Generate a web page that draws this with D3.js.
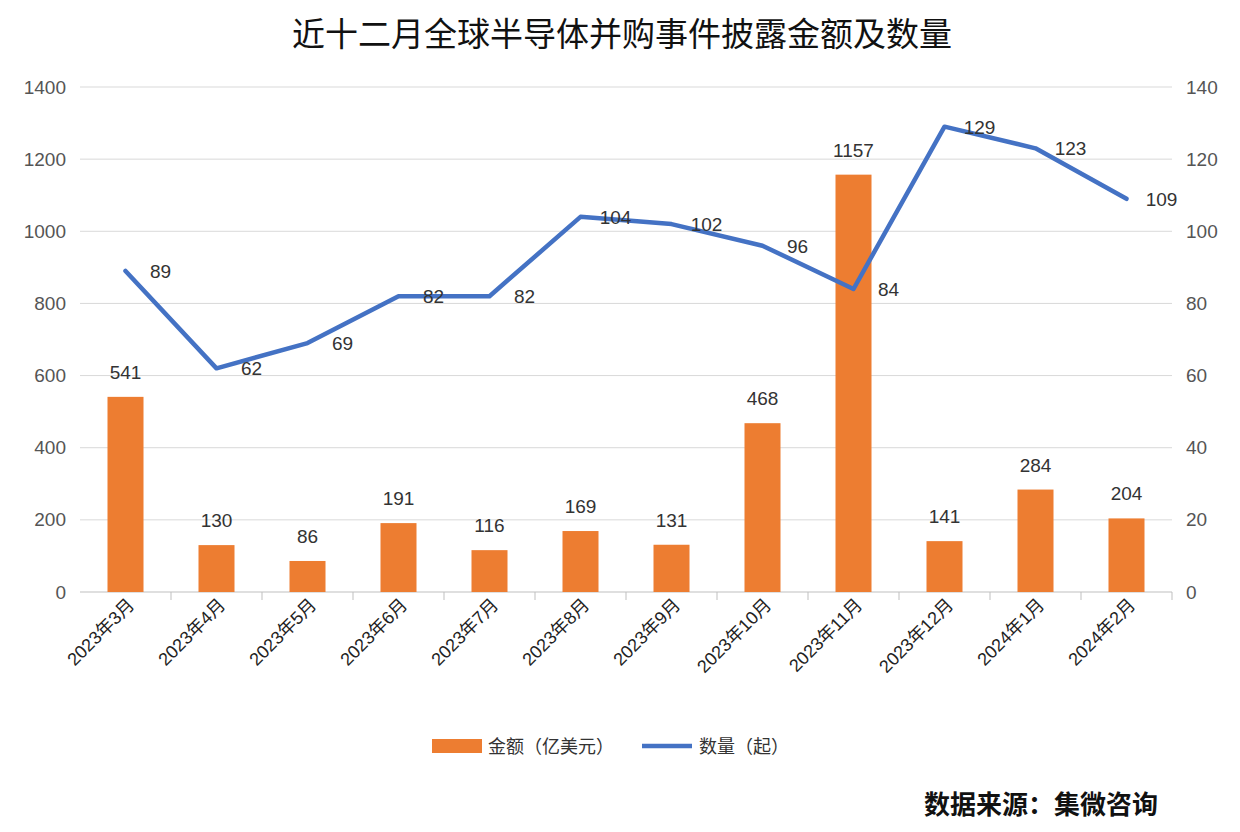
<!DOCTYPE html>
<html><head><meta charset="utf-8">
<script src="https://cdn.jsdelivr.net/npm/d3@7"></script>
<style>body{margin:0;background:#fff}text{font-family:"Liberation Sans","Noto Sans CJK SC",sans-serif}</style>
</head><body>
<svg id="c" width="1240" height="832"></svg>
<script>
var months = ["2023年3月","2023年4月","2023年5月","2023年6月","2023年7月","2023年8月","2023年9月","2023年10月","2023年11月","2023年12月","2024年1月","2024年2月"];
var amount = [541,130,86,191,116,169,131,468,1157,141,284,204];
var count = [89,62,69,82,82,104,102,96,84,129,123,109];
var leftTicks = [0,200,400,600,800,1000,1200,1400];
var rightTicks = [0,20,40,60,80,100,120,140];

var svg = d3.select("#c");
var L = 80, R = 1172, T = 87, B = 592;
var x = d3.scaleBand().domain(months).range([L, R]);
var yl = d3.scaleLinear().domain([0,1400]).range([B, T]);
var yr = d3.scaleLinear().domain([0,140]).range([B, T]);

svg.append("text").attr("x",622).attr("y",46).attr("text-anchor","middle")
  .attr("font-size",33).attr("font-weight",400).attr("fill","#111")
  .style("font-family","'Noto Sans CJK SC',sans-serif").text("近十二月全球半导体并购事件披露金额及数量");

// grid
svg.append("g").selectAll("line").data(leftTicks).join("line")
  .attr("x1",L).attr("x2",R).attr("y1",d=>yl(d)).attr("y2",d=>yl(d))
  .attr("stroke",d=>d?"#d9d9d9":"#bfbfbf").attr("stroke-width",1);

var axl = svg.append("g").attr("transform","translate("+L+",0)")
  .call(d3.axisLeft(yl).tickValues(leftTicks).tickFormat(d3.format("d")).tickSize(0).tickPadding(14));
var axr = svg.append("g").attr("transform","translate("+R+",0)")
  .call(d3.axisRight(yr).tickValues(rightTicks).tickFormat(d3.format("d")).tickSize(0).tickPadding(14));
[axl,axr].forEach(function(a){a.select(".domain").remove();a.selectAll("text").attr("font-size",19).attr("fill","#555");});

var axb = svg.append("g").attr("transform","translate(0,"+B+")")
  .call(d3.axisBottom(x).tickSize(0).tickPadding(0));
axb.select(".domain").remove();
axb.selectAll("line").remove();
axb.selectAll(".tick").append("line").attr("x1",x.bandwidth()/2).attr("x2",x.bandwidth()/2).attr("y2",8).attr("stroke","#bfbfbf");
axb.selectAll("text").attr("font-size",18).attr("fill","#222")
  .attr("text-anchor","end").attr("dy",0).attr("transform","translate(10,14) rotate(-45)");

var bw = 36;
svg.append("g").selectAll("rect").data(amount).join("rect")
  .attr("x",(d,i)=>x(months[i])+x.bandwidth()/2-bw/2).attr("width",bw)
  .attr("y",d=>yl(d)).attr("height",d=>B-yl(d)).attr("fill","#ED7D31");
svg.append("g").selectAll("text").data(amount).join("text")
  .attr("x",(d,i)=>x(months[i])+x.bandwidth()/2).attr("y",d=>yl(d)-18)
  .attr("text-anchor","middle").attr("font-size",19).attr("fill","#333").text(d=>d);

var line = d3.line().x((d,i)=>x(months[i])+x.bandwidth()/2).y(d=>yr(d));
svg.append("path").datum(count).attr("d",line).attr("fill","none")
  .attr("stroke","#4472C4").attr("stroke-width",4.5).attr("stroke-linejoin","round").attr("stroke-linecap","round");
svg.append("g").selectAll("text").data(count).join("text")
  .attr("x",(d,i)=>x(months[i])+x.bandwidth()/2+35).attr("y",d=>yr(d)+7)
  .attr("text-anchor","middle").attr("font-size",19).attr("fill","#333").text(d=>d);

// legend
var lg = svg.append("g").attr("transform","translate(0,746)");
lg.append("rect").attr("x",432).attr("y",-7).attr("width",50).attr("height",14).attr("fill","#ED7D31");
lg.append("text").attr("x",488).attr("y",7).attr("font-size",18).attr("fill","#333").text("金额（亿美元）");
lg.append("line").attr("x1",642).attr("x2",692).attr("stroke","#4472C4").attr("stroke-width",4.5);
lg.append("text").attr("x",699).attr("y",7).attr("font-size",18).attr("fill","#333").text("数量（起）");

svg.append("text").attr("x",1158).attr("y",814).attr("text-anchor","end")
  .attr("font-size",26).attr("font-weight",700).attr("fill","#111")
  .style("font-family","'Noto Sans CJK SC',sans-serif").text("数据来源：集微咨询");
</script>
</body></html>
